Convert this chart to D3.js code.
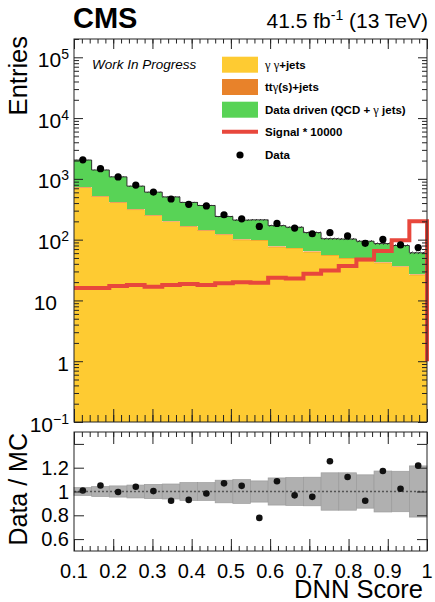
<!DOCTYPE html>
<html>
<head>
<meta charset="utf-8">
<script src="https://cdn.jsdelivr.net/npm/d3@7"></script>
<style>
  html, body { margin: 0; padding: 0; background: #fff; }
  svg { display: block; font-family: "Liberation Sans", Arial, sans-serif; }
</style>
</head>
<body>
<svg id="chart" width="435" height="602"></svg>
<script>
// ---- histogram contents (20 bins in DNN score) ----
const binEdges = [0.1, 0.145, 0.19, 0.235, 0.28, 0.325, 0.37, 0.415, 0.46, 0.505, 0.55,
                  0.595, 0.64, 0.685, 0.73, 0.775, 0.82, 0.865, 0.91, 0.955, 1.0];
const gammaGammaJets = [714, 508, 404, 307, 245, 198, 163, 139, 119, 98,
                        97, 75, 72, 62, 55, 49, 44, 41, 36, 26];
const ttGammaJets    = [20, 15, 12, 9, 7, 6, 5, 4, 3.5, 3,
                        3, 2.3, 2.2, 1.9, 1.7, 1.5, 1.3, 1.2, 1.1, 0.8];
const dataDriven     = [1306, 877, 664, 444, 353, 301, 242, 222, 118, 109,
                        112, 93, 86, 67, 47, 52, 49, 44, 43, 34];
const signalScaled   = [16, 16, 17.3, 18, 16.8, 18, 18.6, 18, 19.1, 19.9,
                        19.5, 23.6, 23, 27.5, 31, 37, 47, 65, 98, 200];
const dataCounts     = [2056, 1470, 1075, 790, 607, 466, 381, 359, 257, 220,
                        165, 185, 155, 125, 130, 115, 87, 101, 82, 74];
// relative MC uncertainty: statistical (upper pad) and total (ratio band)
const mcStatUnc  = [0.01, 0.012, 0.014, 0.016, 0.018, 0.02, 0.022, 0.024, 0.028, 0.03,
                    0.03, 0.034, 0.035, 0.037, 0.04, 0.04, 0.042, 0.044, 0.046, 0.05];
const mcTotalUnc = [0.033, 0.042, 0.047, 0.054, 0.06, 0.063, 0.075, 0.075, 0.095, 0.1,
                    0.089, 0.114, 0.117, 0.12, 0.157, 0.157, 0.14, 0.172, 0.17, 0.215];

// ---- axis labels ----
const xTickValues = [0.1, 0.2, 0.3, 0.4, 0.5, 0.6, 0.7, 0.8, 0.9, 1.0];
const xTickLabels = ["0.1", "0.2", "0.3", "0.4", "0.5", "0.6", "0.7", "0.8", "0.9", "1"];
const logTickValues = [0.1, 1, 10, 100, 1000, 10000, 100000];
const logTickBase   = ["10", "1", "10", "10", "10", "10", "10"];
const logTickExp    = ["\u22121", "", "", "2", "3", "4", "5"];
const ratioTickValues = [0.6, 0.8, 1.0, 1.2, 1.4];
const ratioTickLabels = ["0.6", "0.8", "1", "1.2", ""];

// ---- legend ----
const legendLabels = [
  [["g", "\u03b3 \u03b3"], ["b", "+jets"]],
  [["b", "tt"], ["g", "\u03b3"], ["b", "(s)+jets"]],
  [["b", "Data driven (QCD + "], ["g", "\u03b3"], ["b", " jets)"]],
  [["b", "Signal * 10000"]],
  [["b", "Data"]]
];
const legendKinds = ["box", "box", "box", "line", "dot"];

const colors = {
  yy: "#fecb32",
  tt: "#e8822a",
  dd: "#58d356",
  sig: "#e8473c",
  band: "#b0b0b0"
};
const legendColors = [colors.yy, colors.tt, colors.dd, colors.sig, "#000"];

// ---- layout ----
const left = 74, right = 427;
const topPad = { top: 39, bottom: 422 };
const ratioPad = { top: 432, bottom: 551 };

const svg = d3.select("#chart");
const x = d3.scaleLinear().domain([0.1, 1.0]).range([left, right]);
const y = d3.scaleLog().domain([0.1, 2e5]).range([topPad.bottom, topPad.top]);
const yr = d3.scaleLinear().domain([0.5, 1.5]).range([ratioPad.bottom, ratioPad.top]);

const bins = d3.range(gammaGammaJets.length).map(i => {
  const yy = gammaGammaJets[i], tt = ttGammaJets[i], dd = dataDriven[i];
  return {
    x0: binEdges[i], x1: binEdges[i + 1],
    yy, tt, dd, total: yy + tt + dd,
    sig: signalScaled[i], data: dataCounts[i],
    stat: mcStatUnc[i], unc: mcTotalUnc[i]
  };
});

// hatch pattern for MC stat uncertainty
const defs = svg.append("defs");
const pat = defs.append("pattern").attr("id", "hatch")
  .attr("patternUnits", "userSpaceOnUse").attr("width", 4).attr("height", 4);
pat.append("path").attr("d", "M-1,5 L5,-1 M3,5 L5,3 M-1,1 L1,-1")
  .attr("stroke", "#222").attr("stroke-width", 0.8);

// ---- upper pad: stacked backgrounds ----
const stack = svg.append("g");
stack.selectAll("rect.yy").data(bins).join("rect").attr("class", "yy")
  .attr("x", d => x(d.x0)).attr("width", d => x(d.x1) - x(d.x0))
  .attr("y", d => y(d.yy)).attr("height", d => y(0.1) - y(d.yy))
  .attr("fill", colors.yy).attr("shape-rendering", "crispEdges");
stack.selectAll("rect.tt").data(bins).join("rect").attr("class", "tt")
  .attr("x", d => x(d.x0)).attr("width", d => x(d.x1) - x(d.x0))
  .attr("y", d => y(d.yy + d.tt)).attr("height", d => y(d.yy) - y(d.yy + d.tt))
  .attr("fill", colors.tt);
stack.selectAll("rect.dd").data(bins).join("rect").attr("class", "dd")
  .attr("x", d => x(d.x0)).attr("width", d => x(d.x1) - x(d.x0))
  .attr("y", d => y(d.total)).attr("height", d => y(d.yy + d.tt) - y(d.total))
  .attr("fill", colors.dd).attr("shape-rendering", "crispEdges");

// MC outline and stat band
const stepPts = bins.map(d => [d.x0, d.total]).concat([[1.0, bins[bins.length - 1].total]]);
svg.append("path")
  .attr("d", d3.line().x(d => x(d[0])).y(d => y(d[1])).curve(d3.curveStepAfter)(stepPts))
  .attr("fill", "none").attr("stroke", "#333").attr("stroke-width", 1);
svg.append("g").selectAll("rect").data(bins).join("rect")
  .attr("x", d => x(d.x0)).attr("width", d => x(d.x1) - x(d.x0))
  .attr("y", d => y(d.total * (1 + d.stat)))
  .attr("height", d => y(d.total * (1 - d.stat)) - y(d.total * (1 + d.stat)))
  .attr("fill", "url(#hatch)");

// signal outline
const sigPts = bins.map(d => [d.x0, d.sig])
  .concat([[1.0, bins[bins.length - 1].sig], [1.0, 1]]);
svg.append("path")
  .attr("d", d3.line().x(d => x(d[0])).y(d => y(d[1])).curve(d3.curveStepAfter)(sigPts))
  .attr("fill", "none").attr("stroke", colors.sig).attr("stroke-width", 4)
  .attr("stroke-linejoin", "miter");

// data points
svg.append("g").selectAll("circle").data(bins).join("circle")
  .attr("cx", d => x((d.x0 + d.x1) / 2)).attr("cy", d => y(d.data))
  .attr("r", 3.6).attr("fill", "#000");

// ---- ratio pad ----
svg.append("g").selectAll("rect").data(bins).join("rect")
  .attr("x", d => x(d.x0)).attr("width", d => x(d.x1) - x(d.x0))
  .attr("y", d => yr(1 + d.unc)).attr("height", d => yr(1 - d.unc) - yr(1 + d.unc))
  .attr("fill", colors.band).attr("stroke", "#9c9c9c").attr("stroke-width", 0.7);
svg.append("line")
  .attr("x1", left).attr("x2", right).attr("y1", yr(1)).attr("y2", yr(1))
  .attr("stroke", "#555").attr("stroke-width", 1.4).attr("stroke-dasharray", "2,2");
svg.append("g").selectAll("circle").data(bins).join("circle")
  .attr("cx", d => x((d.x0 + d.x1) / 2)).attr("cy", d => yr(d.data / d.total))
  .attr("r", 3.3).attr("fill", "#111");

// ---- frames and ticks ----
function frame(t, b) {
  svg.append("rect").attr("x", left).attr("y", t).attr("width", right - left).attr("height", b - t)
    .attr("fill", "none").attr("stroke", "#222").attr("stroke-width", 1);
}
frame(topPad.top, topPad.bottom);
frame(ratioPad.top, ratioPad.bottom);

const xMinor = d3.range(0, 46).map(k => 0.1 + k * 0.02).filter(v => v <= 1.0001);
function tickAxis(axisFn, scale, values, size, transform) {
  const g = svg.append("g").attr("transform", transform)
    .call(axisFn(scale).tickValues(values).tickSize(size).tickFormat(""));
  g.select(".domain").remove();
  g.selectAll("line").attr("stroke", "#222").attr("stroke-width", 1);
  return g;
}
// x ticks on both pads
[[topPad, 13, 7, 10, 4.5], [ratioPad, 12, 5, 12, 5]].forEach(([p, bMaj, bMin, tMaj, tMin]) => {
  tickAxis(d3.axisBottom, x, xTickValues, -bMaj, `translate(0,${p.bottom})`);
  tickAxis(d3.axisBottom, x, xMinor, -bMin, `translate(0,${p.bottom})`);
  tickAxis(d3.axisTop, x, xTickValues, -tMaj, `translate(0,${p.top})`);
  tickAxis(d3.axisTop, x, xMinor, -tMin, `translate(0,${p.top})`);
});
// log y ticks
const logMinor = [];
[0.1, 1, 10, 100, 1000, 10000, 100000].forEach(dec => {
  for (let k = 2; k <= 9; k++) { if (dec * k <= 2e5) logMinor.push(dec * k); }
});
tickAxis(d3.axisLeft, y, logTickValues, -9, `translate(${left},0)`);
tickAxis(d3.axisLeft, y, logMinor, -5, `translate(${left},0)`);
tickAxis(d3.axisRight, y, logTickValues, -9, `translate(${right},0)`);
tickAxis(d3.axisRight, y, logMinor, -5, `translate(${right},0)`);
// ratio y ticks
tickAxis(d3.axisLeft, yr, ratioTickValues, -10, `translate(${left},0)`);
tickAxis(d3.axisRight, yr, ratioTickValues, -10, `translate(${right},0)`);

// ---- tick labels ----
const logLab = svg.append("g").attr("font-size", 21).attr("fill", "#000");
logTickValues.forEach((v, i) => {
  const t = logLab.append("text").attr("text-anchor", "end")
    .attr("x", logTickBase[i] === "10" && logTickExp[i] === "" ? 57 : 69)
    .attr("y", y(v) + 9.5);
  t.append("tspan").text(logTickBase[i]);
  if (logTickExp[i]) t.append("tspan").attr("dy", -8).attr("font-size", 14).text(logTickExp[i]);
});
const rLab = svg.append("g").attr("font-size", 20).attr("text-anchor", "end");
ratioTickValues.forEach((v, i) => {
  if (ratioTickLabels[i]) rLab.append("text").attr("x", 69).attr("y", yr(v) + 7).text(ratioTickLabels[i]);
});
const xLab = svg.append("g").attr("font-size", 20).attr("text-anchor", "middle");
xTickValues.forEach((v, i) => {
  xLab.append("text").attr("x", x(v)).attr("y", 578).text(xTickLabels[i]);
});

// ---- titles ----
svg.append("text").attr("x", 423).attr("y", 598).attr("text-anchor", "end")
  .attr("font-size", 25.5).text("DNN Score");
svg.append("text").attr("transform", "translate(27,36) rotate(-90)").attr("text-anchor", "end")
  .attr("font-size", 25.5).text("Entries");
svg.append("text").attr("transform", "translate(27,433) rotate(-90)").attr("text-anchor", "end")
  .attr("font-size", 25).text("Data / MC");
svg.append("text").attr("x", 73).attr("y", 28).attr("font-size", 29).attr("font-weight", "bold").text("CMS");
const lumi = svg.append("text").attr("x", 428).attr("y", 28).attr("text-anchor", "end").attr("font-size", 21);
lumi.append("tspan").text("41.5 fb");
lumi.append("tspan").attr("dy", -8).attr("font-size", 14).text("-1");
lumi.append("tspan").attr("dy", 8).text(" (13 TeV)");
svg.append("text").attr("x", 92).attr("y", 69).attr("font-size", 13.5).attr("font-style", "italic")
  .text("Work In Progress");

// ---- legend ----
const rowY = [64.7, 87, 109.7, 131.7, 155];
const leg = svg.append("g");
legendLabels.forEach((parts, i) => {
  const cy = rowY[i];
  if (legendKinds[i] === "box") {
    leg.append("rect").attr("x", 222).attr("y", cy - 8).attr("width", 36).attr("height", 16)
      .attr("fill", legendColors[i]);
  } else if (legendKinds[i] === "line") {
    leg.append("line").attr("x1", 222).attr("x2", 258).attr("y1", cy).attr("y2", cy)
      .attr("stroke", legendColors[i]).attr("stroke-width", 4);
  } else {
    leg.append("circle").attr("cx", 240).attr("cy", cy).attr("r", 3.6).attr("fill", "#000");
  }
  const t = leg.append("text").attr("x", 265).attr("y", cy + 4).attr("font-size", 11.5);
  parts.forEach(([kind, s]) => {
    const sp = t.append("tspan").text(s);
    if (kind === "g") sp.attr("font-family", "'Liberation Serif', 'DejaVu Serif', serif").attr("font-size", 12.5);
    else sp.attr("font-weight", "bold");
  });
});
</script>
</body>
</html>
